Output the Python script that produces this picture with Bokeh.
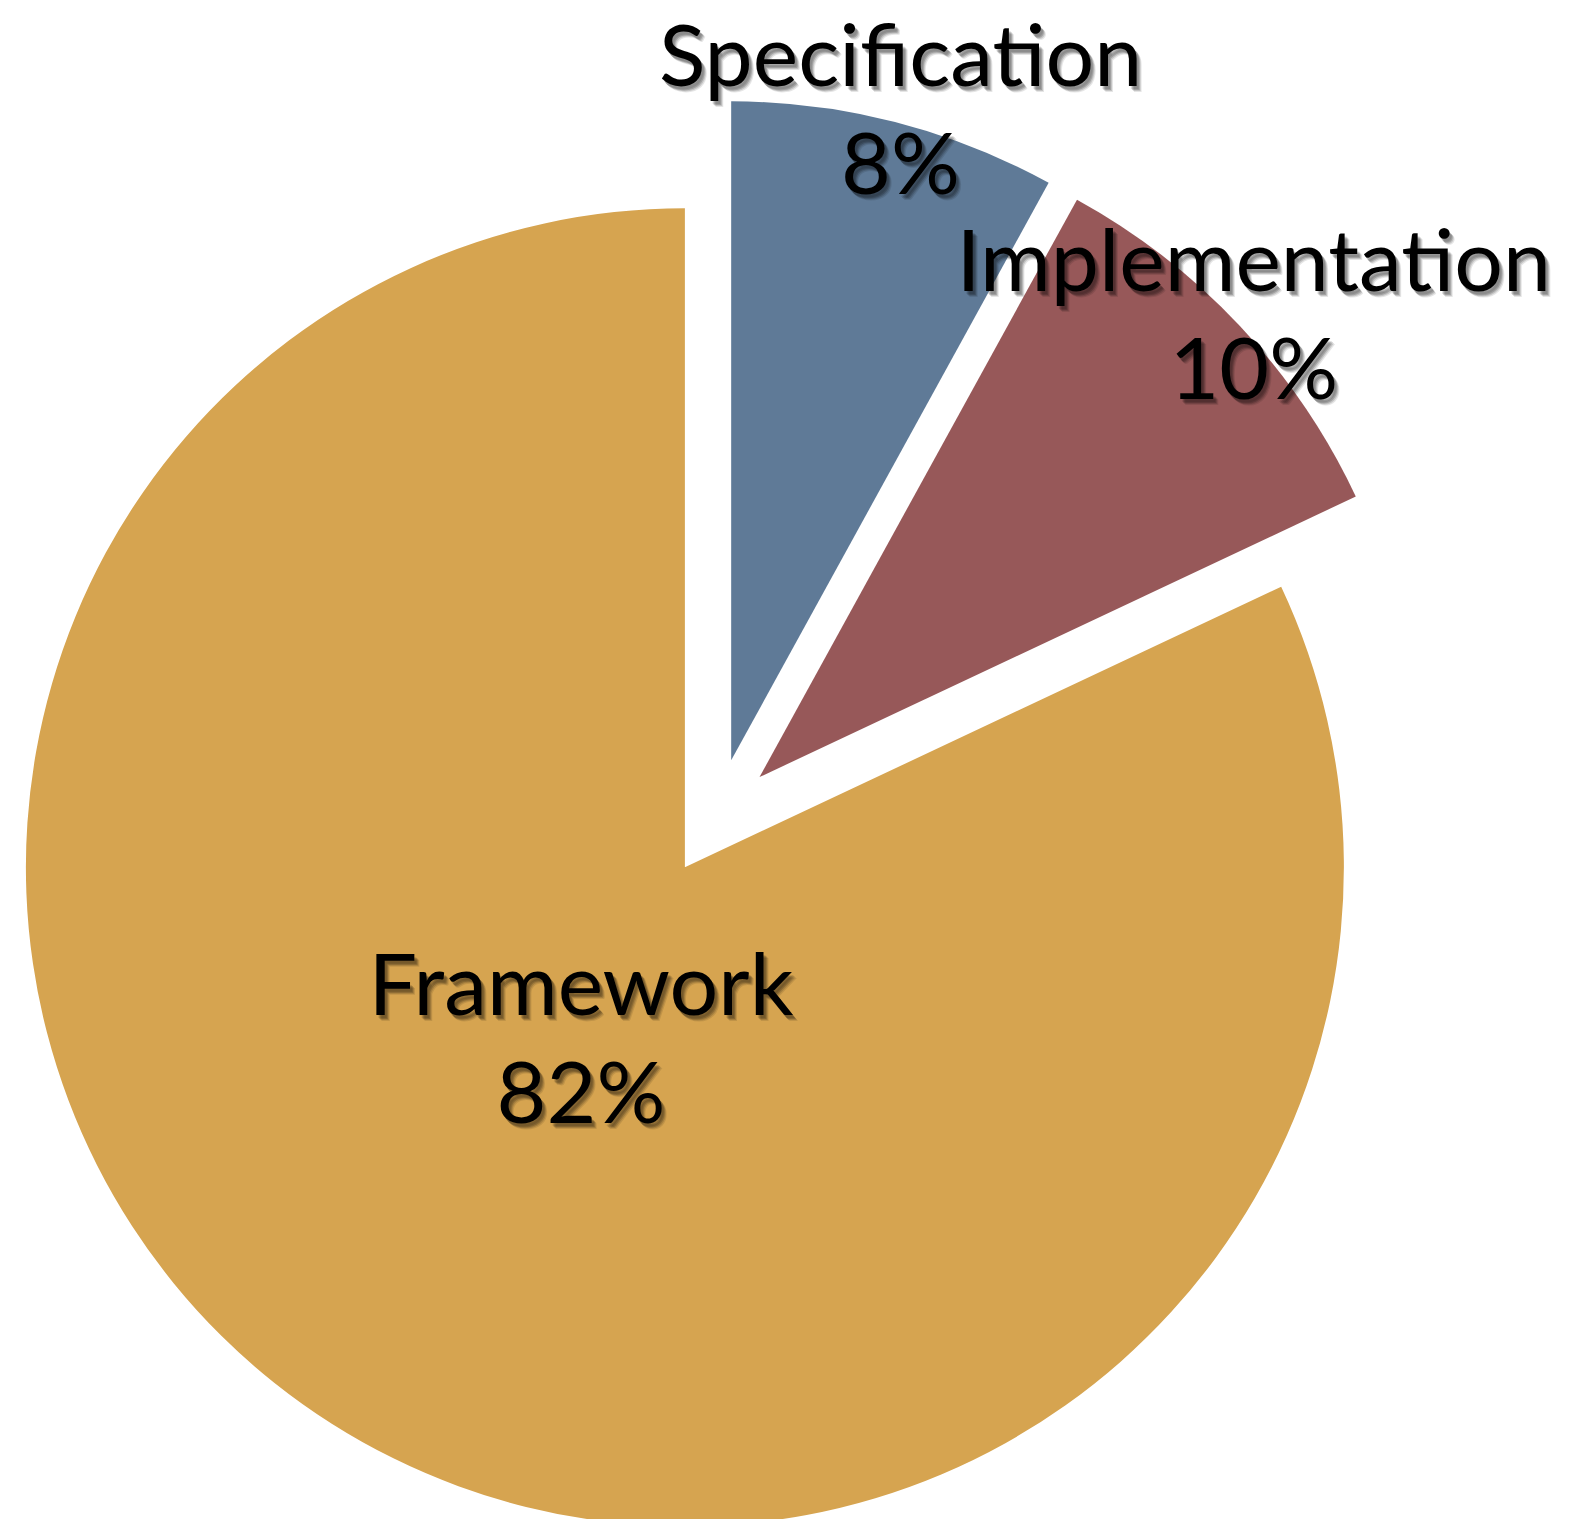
import math
from bokeh.plotting import figure
from bokeh.models import Range1d
from bokeh.core.properties import value
from bokeh.embed import file_html
from bokeh.resources import INLINE

# ---- data ----
names = ["Specification", "Implementation", "Framework"]
percents = [8, 10, 82]
colors = ["#5f7a97", "#975859", "#d6a450"]

# ---- layout / style ----
W, H = 1564, 1519
CX, CY = 716, 710          # pie centre (data units == pixels)
R = 659                    # radius
EXPLODE = 59               # radial offset of each slice
# label anchor relative to each slice's own origin: (fraction of R, angle deg)
LABEL_POLAR = [(0.9757, 74.73), (0.996, 41.15), (0.345, 242.8)]
LINE_GAP = 54
TEXT_DY = 34               # baseline correction
FONT = "Lato"
FSIZE = "86px"

p = figure(width=W, height=H, output_backend="svg", toolbar_location=None,
           x_range=Range1d(0, W), y_range=Range1d(1527 - H, 1527),
           min_border=0)
p.axis.visible = False
p.grid.visible = False
p.outline_line_color = None
p.background_fill_color = "white"
p.border_fill_color = "white"

cum = 0.0
label_items = []
for name, pct, col, (lr, la) in zip(names, percents, colors, LABEL_POLAR):
    a_end = 90 - cum / 100 * 360
    cum += pct
    a_start = 90 - cum / 100 * 360
    mid = math.radians((a_start + a_end) / 2)
    ox = CX + EXPLODE * math.cos(mid)
    oy = CY + EXPLODE * math.sin(mid)
    p.wedge(x=[ox], y=[oy], radius=R,
            start_angle=[math.radians(a_start)], end_angle=[math.radians(a_end)],
            fill_color=col, line_color=None)
    lx = ox + lr * R * math.cos(math.radians(la))
    ly = oy + lr * R * math.sin(math.radians(la)) + TEXT_DY
    label_items.append((lx, ly + LINE_GAP, name))
    label_items.append((lx, ly - LINE_GAP, f"{pct}%"))

xs = [t[0] for t in label_items]
ys = [t[1] for t in label_items]
txt = [t[2] for t in label_items]

# soft drop shadow
for dx, dy, al in [(4, -5, 0.14), (3, -4, 0.18), (5, -6, 0.10), (2, -3, 0.12)]:
    p.text(x=[x + dx for x in xs], y=[y + dy for y in ys], text=txt,
           text_font=value(FONT), text_font_size=FSIZE,
           text_align="center", text_baseline="alphabetic",
           text_color="black", text_alpha=al)

p.text(x=xs, y=ys, text=txt, text_font=value(FONT), text_font_size=FSIZE,
       text_align="center", text_baseline="alphabetic", text_color="black")

open("out.html", "w").write(file_html(p, INLINE))
